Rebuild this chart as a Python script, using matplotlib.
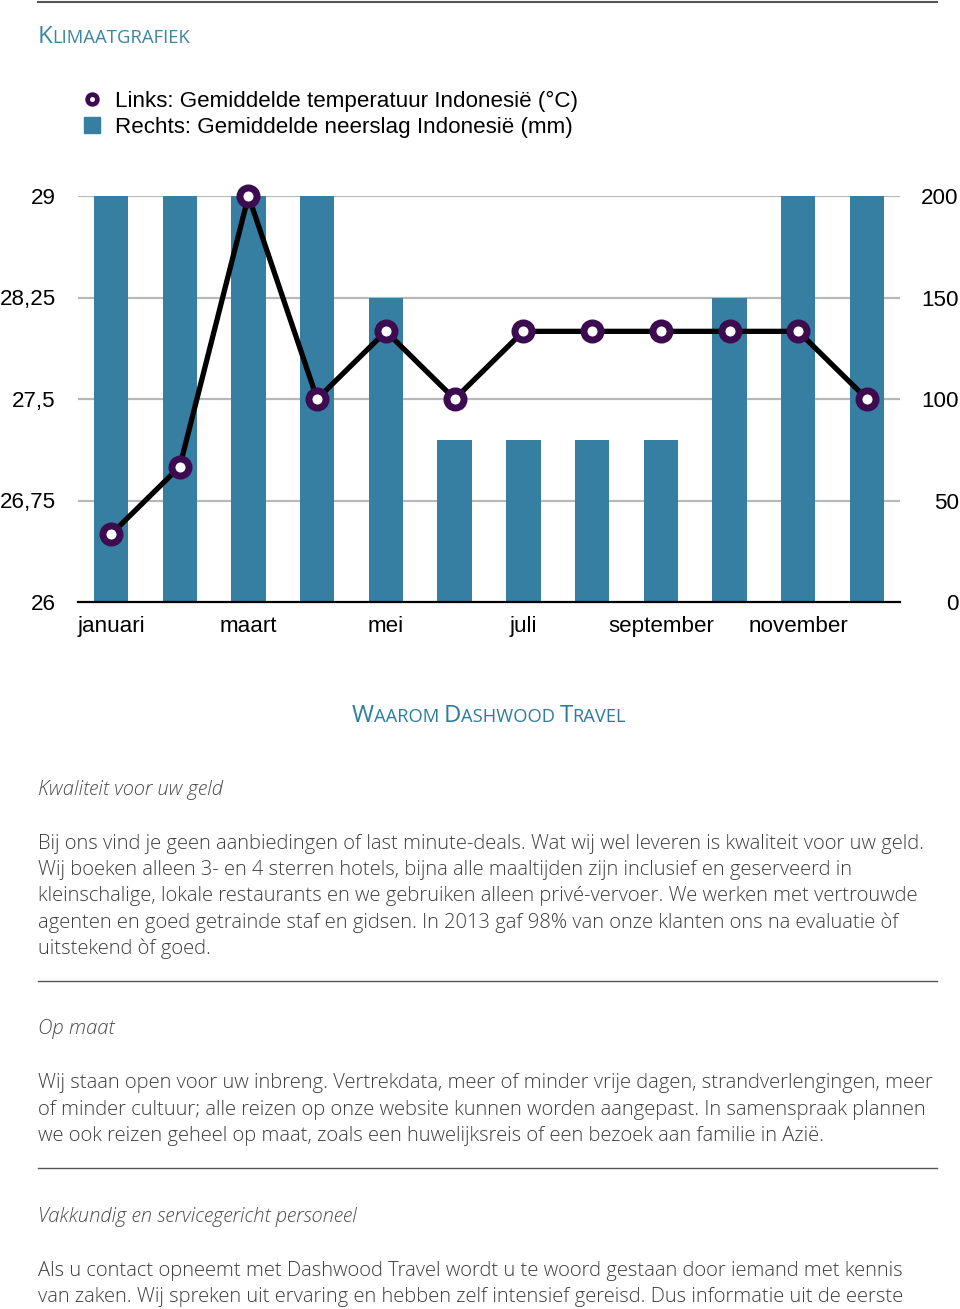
import matplotlib
matplotlib.use("Agg")
import matplotlib.pyplot as plt
from matplotlib.lines import Line2D
from matplotlib.patches import Rectangle

# ---- data ----
months = ["januari", "februari", "maart", "april", "mei", "juni", "juli",
          "augustus", "september", "oktober", "november", "december"]
shown_months = ["januari", "maart", "mei", "juli", "september", "november"]
temperature = [26.5, 27.0, 29.0, 27.5, 28.0, 27.5, 28.0, 28.0, 28.0, 28.0, 28.0, 27.5]
rainfall = [200, 200, 200, 200, 150, 80, 80, 80, 80, 150, 200, 200]
temp_ticks = [26, 26.75, 27.5, 28.25, 29]
temp_tick_labels = ["26", "26,75", "27,5", "28,25", "29"]
rain_ticks = [0, 50, 100, 150, 200]
rain_tick_labels = ["0", "50", "100", "150", "200"]

legend_labels = ["Links: Gemiddelde temperatuur Indonesië (°C)",
                 "Rechts: Gemiddelde neerslag Indonesië (mm)"]

para1 = ["Bij ons vind je geen aanbiedingen of last minute-deals. Wat wij wel leveren is kwaliteit voor uw geld.",
         "Wij boeken alleen 3- en 4 sterren hotels, bijna alle maaltijden zijn inclusief en geserveerd in",
         "kleinschalige, lokale restaurants en we gebruiken alleen privé-vervoer. We werken met vertrouwde",
         "agenten en goed getrainde staf en gidsen. In 2013 gaf 98% van onze klanten ons na evaluatie òf",
         "uitstekend òf goed."]
para2 = ["Wij staan open voor uw inbreng. Vertrekdata, meer of minder vrije dagen, strandverlengingen, meer",
         "of minder cultuur; alle reizen op onze website kunnen worden aangepast. In samenspraak plannen",
         "we ook reizen geheel op maat, zoals een huwelijksreis of een bezoek aan familie in Azië."]
para3 = ["Als u contact opneemt met Dashwood Travel wordt u te woord gestaan door iemand met kennis",
         "van zaken. Wij spreken uit ervaring en hebben zelf intensief gereisd. Dus informatie uit de eerste"]

BAR = "#367fa3"
PURPLE = "#3d0c50"
TEAL = "#2c7d9c"
GRID = "#b8b8b8"
BODY = "#3c3c3c"

W, H = 960, 1309
fig = plt.figure(figsize=(W / 100, H / 100), dpi=100)
fig.patch.set_facecolor("white")

def fx(px):
    return px / W

def fy(py):
    return 1 - py / H

renderer = fig.canvas.get_renderer()

# ---- chart ----
ax = fig.add_axes([fx(78), fy(602), fx(900) - fx(78), (602 - 196) / H])
ax2 = ax.twinx()
x = list(range(len(months)))

ax.set_zorder(1)
ax2.set_zorder(2)
ax.patch.set_visible(False)
ax2.patch.set_visible(False)

ax.set_ylim(0, 200)
for t in rain_ticks[1:]:
    ax.axhline(t, color=GRID, lw=1.6, zorder=0)
ax.bar(x, rainfall, width=0.5, color=BAR, zorder=2)
ax.set_xlim(-0.48, len(months) - 0.52)

ax2.set_ylim(26, 29)
ax2.plot(x, temperature, color="black", lw=3.8, zorder=3, clip_on=False,
         marker="o", markersize=12.3, markeredgewidth=5.0,
         markeredgecolor=PURPLE, markerfacecolor="white")

for a in (ax, ax2):
    for s in a.spines.values():
        s.set_visible(False)
ax.spines["bottom"].set_visible(True)
ax.spines["bottom"].set_linewidth(1.6)
ax.spines["bottom"].set_color("black")

tickfont = dict(family="Liberation Sans", size=16.1, color="black")
ax2.yaxis.tick_left()
ax2.set_yticks(temp_ticks)
ax2.set_yticklabels(temp_tick_labels, **tickfont)
ax2.tick_params(axis="y", length=0, pad=16)

ax.yaxis.tick_right()
ax.set_yticks(rain_ticks)
ax.set_yticklabels(rain_tick_labels, **tickfont)
for lab in ax.get_yticklabels():
    lab.set_horizontalalignment("right")
ax.tick_params(axis="y", length=0, pad=42.3)

ax.set_xticks([months.index(m) for m in shown_months])
ax.set_xticklabels(shown_months, **tickfont)
ax.tick_params(axis="x", length=0, pad=10)

# ---- header ----
fig.add_artist(Line2D([fx(38), fx(937)], [fy(2), fy(2)], color="#555555", lw=1.5))

def smallcaps(text_words, x0, y0, big, small, color, ha="left"):
    """Draw words in small caps starting at x0 (pixels), baseline y0."""
    pieces = []
    for wi, word in enumerate(text_words):
        if wi > 0:
            pieces.append((" ", small))
        pieces.append((word[0].upper(), big))
        pieces.append((word[1:].upper(), small))
    widths = []
    arts = []
    for s, size in pieces:
        t = fig.text(0, 0, s, fontsize=size, family="Open Sans", color=color,
                     va="baseline", ha="left")
        bb = t.get_window_extent(renderer=renderer)
        w = bb.width
        if s == " ":
            w = size * 0.35
        widths.append(w)
        arts.append(t)
    total = sum(widths)
    if ha == "center":
        x0 = x0 - total / 2
    cx = x0
    for t, w in zip(arts, widths):
        t.set_position((fx(cx), fy(y0)))
        cx += w
    return total

smallcaps(["Klimaatgrafiek"], 38, 43, 17.3, 13.3, "#3a86a3")

# legend
fig.add_artist(Line2D([fx(92)], [fy(99)], marker="o", markersize=7.0, markeredgewidth=3.4,
                      markeredgecolor=PURPLE, markerfacecolor="white", transform=fig.transFigure))
fig.add_artist(Rectangle((fx(84), fy(133)), fx(16), 16 / H, color=BAR, transform=fig.transFigure))
fig.text(fx(115), fy(101), legend_labels[0], va="center", ha="left", **tickfont)
fig.text(fx(115), fy(127), legend_labels[1], va="center", ha="left", **tickfont)

# ---- lower text ----
smallcaps(["Waarom", "Dashwood", "Travel"], 489, 722, 17.2, 13.2, TEAL, ha="center")

def fit_size(text, target_px, base=14, style="normal", weight="light"):
    t = fig.text(0, 0, text, fontsize=base, family="Open Sans", style=style, weight=weight)
    w = t.get_window_extent(renderer=renderer).width
    t.remove()
    return base * target_px / w

body_size = fit_size(para1[0], 892)
body = dict(family="Open Sans", weight="light", color=BODY, size=body_size, va="baseline", ha="left")
head = dict(family="Open Sans", weight="light", style="italic", color="#4a4a4a", size=body_size,
            va="baseline", ha="left")

fig.text(fx(38), fy(795), "Kwaliteit voor uw geld", **head)
for i, line in enumerate(para1):
    fig.text(fx(38), fy(849 + 26.2 * i), line, **body)

fig.add_artist(Line2D([fx(38), fx(937)], [fy(981), fy(981)], color="#555555", lw=1.0))
fig.text(fx(38), fy(1034), "Op maat", **head)
for i, line in enumerate(para2):
    fig.text(fx(38), fy(1088 + 26.5 * i), line, **body)

fig.add_artist(Line2D([fx(38), fx(937)], [fy(1168), fy(1168)], color="#555555", lw=1.0))
fig.text(fx(38), fy(1222), "Vakkundig en servicegericht personeel", **head)
for i, line in enumerate(para3):
    fig.text(fx(38), fy(1276 + 26.2 * i), line, **body)

fig.savefig("out.png", dpi=100, facecolor="white")
